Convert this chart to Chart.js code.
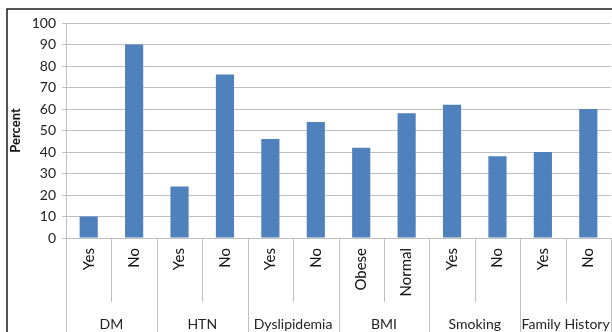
<!DOCTYPE html>
<html>
<head>
<meta charset="utf-8">
<script src="https://cdn.jsdelivr.net/npm/chart.js@4.4.1/dist/chart.umd.min.js"></script>
<style>
  html, body { margin: 0; padding: 0; background: #fff; }
  #wrap { width: 612px; height: 332px; position: relative; }
</style>
</head>
<body>
<div id="wrap"><canvas id="c" width="612" height="332"></canvas></div>
<script>
// Risk factor groups and the answer categories inside each group
const groups = ['DM', 'HTN', 'Dyslipidemia', 'BMI', 'Smoking', 'Family History'];
const groupSizes = [2, 2, 2, 2, 2, 2];
const subLabels = ['Yes', 'No', 'Yes', 'No', 'Yes', 'No', 'Obese', 'Normal', 'Yes', 'No', 'Yes', 'No'];
// Percentage of respondents in each category
const percent = [10, 90, 24, 76, 46, 54, 42, 58, 62, 38, 40, 60];
// Value axis
const yMin = 0;
const yMax = 100;
const yStep = 10;
const yTitle = 'Percent';

const FONT = 'Lato, "Open Sans", sans-serif';
const GRID = '#bfbfbf';

// Frame, category separators and group names under the axis
const groupAxis = {
  id: 'groupAxis',
  beforeDraw(chart) {
    const { ctx, width, height } = chart;
    ctx.save();
    ctx.fillStyle = '#fff';
    ctx.fillRect(0, 0, width, height);
    ctx.strokeStyle = '#1a1a1a';
    ctx.lineWidth = 1.5;
    ctx.beginPath();
    ctx.moveTo(7, height + 2);
    ctx.lineTo(7, 9);
    ctx.lineTo(width + 2, 9);
    ctx.stroke();
    ctx.restore();
  },
  afterDraw(chart) {
    const { ctx, chartArea } = chart;
    const x = chart.scales.x;
    const base = chartArea.bottom;
    const n = subLabels.length;
    const edge = (i) => {
      if (i === 0) return chartArea.left;
      if (i === n) return chartArea.right;
      return (x.getPixelForValue(i - 1) + x.getPixelForValue(i)) / 2;
    };
    const groupStarts = [];
    let acc = 0;
    groupSizes.forEach((s) => { groupStarts.push(acc); acc += s; });

    ctx.save();
    ctx.strokeStyle = GRID;
    ctx.lineWidth = 1;
    for (let i = 0; i <= n; i++) {
      const px = Math.round(edge(i)) + 0.5;
      const isGroup = i === n || groupStarts.includes(i);
      ctx.beginPath();
      ctx.moveTo(px, base);
      ctx.lineTo(px, isGroup ? chart.height : base + 64);
      ctx.stroke();
    }
    ctx.fillStyle = '#222';
    ctx.font = '14px ' + FONT;
    ctx.textAlign = 'center';
    ctx.textBaseline = 'middle';
    groups.forEach((g, k) => {
      const a = edge(groupStarts[k]);
      const b = edge(groupStarts[k] + groupSizes[k]);
      ctx.fillText(g, (a + b) / 2, base + 86);
    });
    ctx.restore();
  }
};

new Chart(document.getElementById('c'), {
  type: 'bar',
  data: {
    labels: subLabels,
    datasets: [{
      data: percent,
      backgroundColor: '#4f81bd',
      borderWidth: 0,
      barPercentage: 0.4,
      categoryPercentage: 1
    }]
  },
  options: {
    responsive: false,
    animation: false,
    devicePixelRatio: 1,
    layout: { padding: { left: 0, right: 1, top: 23, bottom: 0 } },
    plugins: {
      legend: { display: false },
      tooltip: { enabled: false }
    },
    scales: {
      x: {
        offset: true,
        grid: { display: false, drawTicks: false },
        border: { display: true, color: GRID },
        ticks: {
          minRotation: 90,
          maxRotation: 90,
          autoSkip: false,
          padding: 10,
          color: '#111',
          font: { family: FONT, size: 15 }
        },
        afterFit(scale) {
          scale.height = 94;
          scale.paddingLeft = 0;
          scale.paddingRight = 0;
        }
      },
      y: {
        min: yMin,
        max: yMax,
        grid: { color: GRID, tickLength: 4, drawTicks: true },
        border: { display: true, color: GRID },
        ticks: {
          stepSize: yStep,
          padding: 6,
          color: '#222',
          font: { family: FONT, size: 14 }
        },
        title: {
          display: true,
          text: yTitle,
          color: '#111',
          padding: { top: 8, bottom: 4 },
          font: { family: FONT, size: 13, weight: 'bold' }
        },
        afterFit(scale) { scale.width = 66; }
      }
    }
  },
  plugins: [groupAxis]
});
</script>
</body>
</html>
